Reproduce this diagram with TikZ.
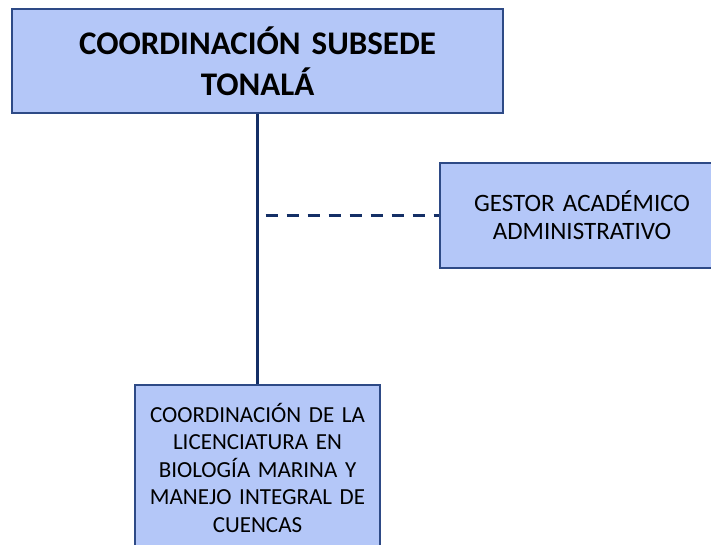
\documentclass[tikz,border=0pt]{standalone}
\usepackage{fontspec}
\setmainfont{Carlito}
\usetikzlibrary{positioning}
\definecolor{cFill}{HTML}{B4C7F8}
\definecolor{cEdge}{HTML}{2E4A86}
\definecolor{cLine}{HTML}{142F66}

\begin{document}
\begin{tikzpicture}[
    x=1pt, y=-1pt,
    unit/.style={draw=cEdge, line width=1.1pt, fill=cFill, inner sep=0pt,
                 align=center, text=black},
    head/.style={unit, minimum width=491pt, minimum height=104pt,
                 text width=470pt, font=\fontsize{33}{41}\selectfont\bfseries},
    staff/.style={unit, minimum width=284pt, minimum height=105pt,
                  text width=275pt, font=\fontsize{25}{28}\selectfont},
    sub/.style={unit, minimum width=245pt, minimum height=165pt,
                text width=240pt, font=\fontsize{23}{27.5}\selectfont},
    link/.style={draw=cLine, line width=3pt},
    aux/.style={draw=cLine, line width=3pt, dash pattern=on 12pt off 9pt},
]
\useasboundingbox (0,0) rectangle (711,544);
\clip (0,0) rectangle (711,544);

% ===================== Cajas =====================
\node[head]  (coord)  at (257.5,61)  {COORDINACIÓN SUBSEDE\\TONALÁ};
\node[staff] (gestor) at (582,215.5) {GESTOR ACADÉMICO\\ADMINISTRATIVO};
\node[sub]   (lic)    at (257.5,467.5)
      {COORDINACIÓN DE LA\\LICENCIATURA EN\\BIOLOGÍA MARINA Y\\MANEJO INTEGRAL DE\\CUENCAS};

% ===================== Conectores =====================
\draw[link] (coord.south) -- (lic.north);
\coordinate (tap) at ([xshift=8pt]coord.south |- gestor.west);
\draw[aux] (tap) -- (gestor.west);

\end{tikzpicture}
\end{document}
